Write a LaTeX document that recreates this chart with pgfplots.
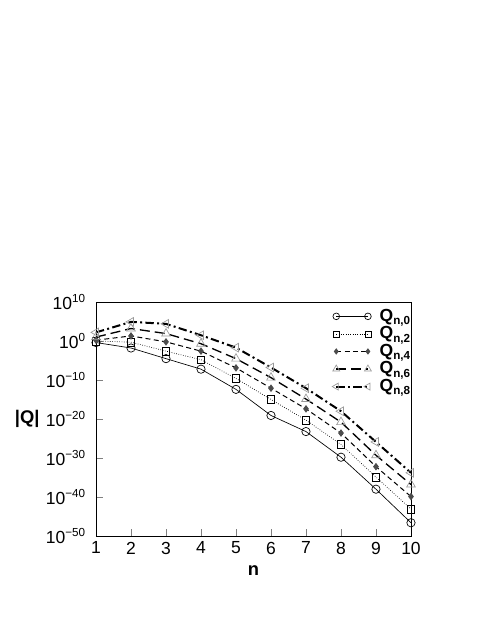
\documentclass[border=0pt]{standalone}
\usepackage{fontspec}
\setmainfont{Liberation Sans}
\usepackage{pgfplots}
\pgfplotsset{compat=1.18}

\definecolor{mgray}{gray}{0.6}
\definecolor{dgray}{gray}{0.3}

% 10 with a raised exponent, as in the reference
\newcommand{\pw}[1]{10\raisebox{0.85ex}{\fontsize{7}{7}\selectfont #1}}
\newcommand{\Qn}[1]{\textbf{Q}\raisebox{-0.35ex}{\fontsize{7}{7}\selectfont\bfseries n,#1}}

\begin{document}
\begin{tikzpicture}
\begin{axis}[
    name=ax,
    scale only axis,
    width=189pt, height=140.4pt,
    ymode=log,
    xmin=1, xmax=10,
    ymin=1e-50, ymax=1e10,
    xtick={1,2,3,4,5,6,7,8,9,10},
    xticklabels={1,2,3,4,5,6,7,8,9,10},
    ytick={1e-50,1e-40,1e-30,1e-20,1e-10,1e0,1e10},
    yticklabels={\pw{−50},\pw{−40},\pw{−30},\pw{−20},\pw{−10},\pw{0},\pw{10}},
    yminorticks=false,
    tick align=inside,
    xtick pos=bottom, ytick pos=left,
    major tick length=4pt,
    tick label style={font=\fontsize{10.5}{12}\selectfont},
    yticklabel style={xshift=-3pt},
    xlabel={\textbf{n}},
    ylabel={\textbf{|Q|}},
    ylabel style={rotate=-90, xshift=3pt},
    label style={font=\fontsize{11}{12}\selectfont},
    legend style={draw=none, fill=none, at={(1.025,1.0)}, anchor=north east,
        font=\fontsize{10.5}{10.5}\selectfont, row sep=-2.3pt,
        /tikz/every odd column/.append style={column sep=3pt}},
    legend cell align=left,
    legend image code/.code={\draw[mark repeat=1,#1,every mark/.append style={scale=0.8}] plot coordinates {(0pt,0pt) (19pt,0pt)};},
]
\addplot[black, thin, mark=o, mark size=2.5pt, mark options={solid}]
    coordinates {(1,4e-1)(2,1.6e-2)(3,3e-5)(4,6e-8)(5,4e-13)(6,8e-20)(7,6e-24)(8,1.6e-30)(9,1e-38)(10,2.5e-47)};
\addplot[black, thin, densely dotted, mark=square, mark size=2.3pt, mark options={solid}]
    coordinates {(1,1)(2,5e-1)(3,2.5e-3)(4,1.6e-5)(5,2.5e-10)(6,1e-15)(7,5e-21)(8,3e-27)(9,1.3e-35)(10,8e-44)};
\addplot[black, semithick, dash pattern=on 3pt off 2pt, mark=diamond*, mark size=1.8pt, mark options={solid, fill=dgray, draw=dgray}]
    coordinates {(1,1.6)(2,20)(3,6e-1)(4,2.5e-3)(5,1.3e-7)(6,8e-13)(7,4e-18)(8,2.5e-24)(9,6e-33)(10,1.3e-40)};
\addplot[black, thick, dash pattern=on 6pt off 3pt, mark=triangle, mark size=3pt, mark options={solid, draw=mgray, thin}]
    coordinates {(1,10)(2,1.6e3)(3,80)(4,2e-1)(5,3e-5)(6,4e-10)(7,1.3e-15)(8,1.6e-21)(9,5e-30)(10,1.6e-37)};
\addplot[black, very thick, dash pattern=on 5pt off 2pt on 1.2pt off 2pt, mark=triangle, mark size=3pt, mark options={solid, draw=mgray, thin, rotate=90}]
    coordinates {(1,1.6e2)(2,8e4)(3,2.5e4)(4,30)(5,2e-2)(6,1.6e-7)(7,8e-13)(8,1e-18)(9,1.3e-26)(10,1.6e-34)};
\legend{\Qn{0},\Qn{2},\Qn{4},\Qn{6},\Qn{8}}
\end{axis}
\path ([shift={(-57.6pt,-59.4pt)}]ax.south west) rectangle ([shift={(48pt,181.2pt)}]ax.north east);
\end{tikzpicture}
\end{document}
